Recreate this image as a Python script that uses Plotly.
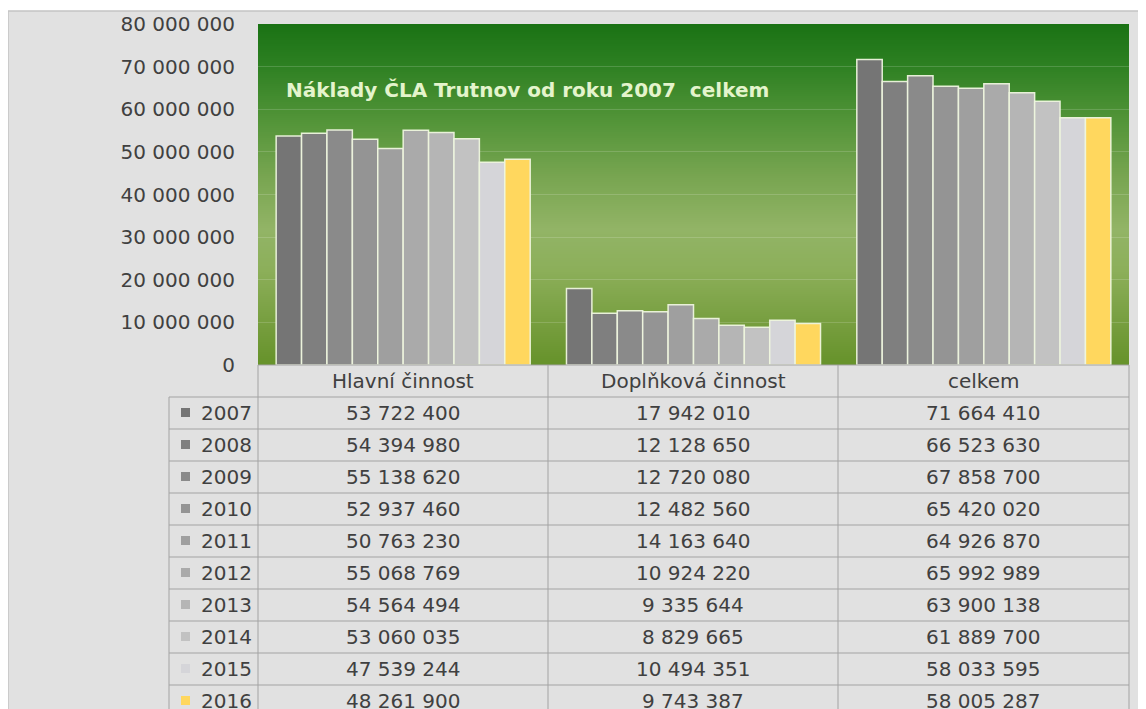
import plotly.graph_objects as go

# ---------------- data ----------------
categories = ["Hlavní činnost", "Doplňková činnost", "celkem"]
years = ["2007", "2008", "2009", "2010", "2011", "2012", "2013", "2014", "2015", "2016"]
hlavni = [53722400, 54394980, 55138620, 52937460, 50763230, 55068769, 54564494, 53060035, 47539244, 48261900]
doplnkova = [17942010, 12128650, 12720080, 12482560, 14163640, 10924220, 9335644, 8829665, 10494351, 9743387]
celkem = [71664410, 66523630, 67858700, 65420020, 64926870, 65992989, 63900138, 61889700, 58033595, 58005287]
title_text = "Náklady ČLA Trutnov od roku 2007&nbsp; celkem"
y_ticks = [0, 10000000, 20000000, 30000000, 40000000, 50000000, 60000000, 70000000, 80000000]

# ---------------- style ----------------
colors = ["#757575", "#7f7f7f", "#8a8a8a", "#949494", "#9f9f9f",
          "#aaaaaa", "#b5b5b5", "#c2c2c2", "#d5d5d9", "#ffd75e"]
OFF = 8  # page body margin
W, H = 1146, 709
PL, PR, PT, PB = 258, 1129, 24, 365  # plot area in window px
FONT = "DejaVu Sans"
TXT = "#404040"
LINE = "#a3a3a3"
FS = 20


def xp(px):
    return (px - PL) / (PR - PL)


def yp(py):
    return (PB - py) / (PB - PT)


fig = go.Figure()
for i, yr in enumerate(years):
    fig.add_trace(go.Bar(
        x=categories,
        y=[hlavni[i], doplnkova[i], celkem[i]],
        name=yr,
        marker=dict(color=colors[i], line=dict(color="rgba(238,246,222,0.95)", width=1.5)),
    ))

shapes = []
# chart area (gray, with border)
shapes.append(dict(type="rect", xref="paper", yref="paper", layer="below",
                   x0=xp(8), x1=xp(W + 10), y0=yp(11), y1=yp(H + 10),
                   fillcolor="#e1e1e1", line=dict(color="#c4c4c4", width=1.5)))

# green gradient plot background (horizontal strips)
stops = [(24, (26, 114, 20)), (60, (42, 126, 32)), (120, (82, 148, 56)),
         (180, (122, 166, 82)), (230, (146, 180, 102)), (270, (140, 175, 90)),
         (320, (120, 159, 64)), (365, (102, 146, 42))]


def col_at(py):
    for (a, ca), (b, cb) in zip(stops[:-1], stops[1:]):
        if a <= py <= b:
            t = (py - a) / (b - a)
            return tuple(int(round(ca[k] + (cb[k] - ca[k]) * t)) for k in range(3))
    return stops[-1][1]


step = 2
y = PT
while y < PB:
    c = col_at(y + step / 2)
    shapes.append(dict(type="rect", xref="paper", yref="paper", layer="below",
                       x0=0, x1=1, y0=yp(min(y + step + 0.5, PB)), y1=yp(y),
                       fillcolor="rgb(%d,%d,%d)" % c, line=dict(width=0)))
    y += step

# table lines
row_h = 32
hdr_top, hdr_bot = 365, 397
n_rows = len(years)
col_x = [258, 548, 838, 1129]
shapes.append(dict(type="line", xref="paper", yref="paper", x0=xp(258), x1=xp(1129),
                   y0=yp(hdr_top), y1=yp(hdr_top), line=dict(color=LINE, width=1)))
for r in range(n_rows + 1):
    yy = hdr_bot + r * row_h
    shapes.append(dict(type="line", xref="paper", yref="paper", x0=xp(169), x1=xp(1129),
                       y0=yp(yy), y1=yp(yy), line=dict(color=LINE, width=1)))
shapes.append(dict(type="line", xref="paper", yref="paper", x0=xp(169), x1=xp(169),
                   y0=yp(hdr_bot), y1=yp(H + 20), line=dict(color=LINE, width=1)))
for cx in col_x:
    shapes.append(dict(type="line", xref="paper", yref="paper", x0=xp(cx), x1=xp(cx),
                       y0=yp(hdr_top), y1=yp(H + 20), line=dict(color=LINE, width=1)))

# legend keys in table
for i in range(n_rows):
    cy = hdr_bot + i * row_h + row_h / 2
    shapes.append(dict(type="rect", xref="paper", yref="paper",
                       x0=xp(181), x1=xp(190), y0=yp(cy + 4), y1=yp(cy - 5),
                       fillcolor=colors[i], line=dict(width=0)))

annotations = []
# title
annotations.append(dict(text="<b>" + title_text + "</b>", xref="paper", yref="paper",
                        x=xp(284), y=yp(90), xanchor="left", yanchor="middle", showarrow=False,
                        font=dict(family=FONT, size=20, color="#e4f4cc")))


def fmt(v):
    return f"{v:,}".replace(",", " ")


# header
for j, cat in enumerate(categories):
    cx = (col_x[j] + col_x[j + 1]) / 2
    annotations.append(dict(text=cat, xref="paper", yref="paper", x=xp(cx), y=yp(381),
                            xanchor="center", yanchor="middle", showarrow=False,
                            font=dict(family=FONT, size=FS, color=TXT)))
series = [hlavni, doplnkova, celkem]
for i, yr in enumerate(years):
    cy = hdr_bot + i * row_h + row_h / 2
    annotations.append(dict(text=yr, xref="paper", yref="paper", x=xp(254), y=yp(cy),
                            xanchor="right", yanchor="middle", showarrow=False,
                            font=dict(family=FONT, size=FS, color=TXT)))
    for j in range(3):
        cx = (col_x[j] + col_x[j + 1]) / 2
        annotations.append(dict(text=fmt(series[j][i]), xref="paper", yref="paper",
                                x=xp(cx), y=yp(cy), xanchor="center", yanchor="middle",
                                showarrow=False, font=dict(family=FONT, size=FS, color=TXT)))

FW, FH = W - OFF, H - OFF
fig.update_layout(
    width=FW, height=FH,
    margin=dict(l=PL - OFF, r=FW - (PR - OFF), t=PT - OFF, b=FH - (PB - OFF), pad=0),
    paper_bgcolor="white",
    plot_bgcolor="rgba(0,0,0,0)",
    barmode="group", bargap=0.125, bargroupgap=0,
    showlegend=False,
    separators=". ",
    shapes=shapes,
    annotations=annotations,
    xaxis=dict(showticklabels=False, showgrid=False, zeroline=False, showline=False, ticks="",
               automargin=False),
    yaxis=dict(range=[0, 80000000], tickvals=y_ticks, tickformat=",d", automargin=False,
               showgrid=True, gridcolor="rgba(255,255,255,0.16)", gridwidth=1,
               zeroline=False, showline=False, ticks="", ticklabelstandoff=22,
               tickfont=dict(family=FONT, size=FS, color=TXT)),
)

fig.write_html("out.html")
